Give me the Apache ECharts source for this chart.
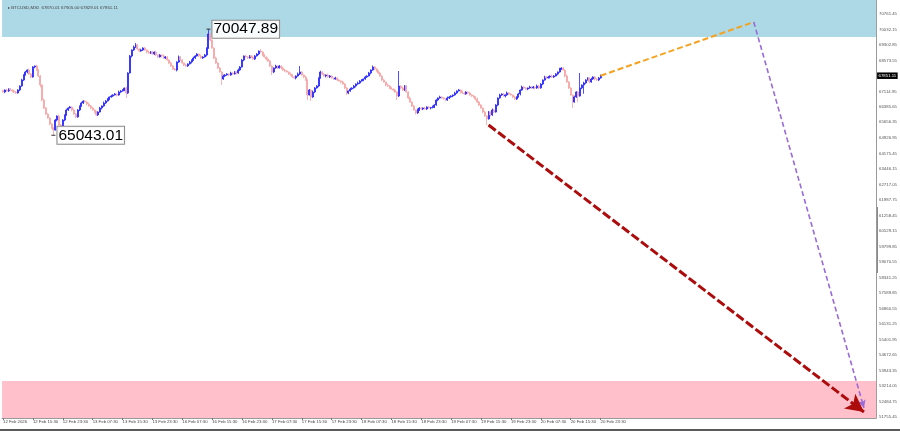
<!DOCTYPE html>
<html><head><meta charset="utf-8">
<script src="https://cdn.jsdelivr.net/npm/echarts@6.0.0/dist/echarts.min.js"></script>
<style>html,body{margin:0;padding:0;background:#fff}#c{width:900px;height:431px}</style>
</head><body><div id="c"></div>
<script>
const symbolTitle = '\u25B8 BTCUSD,M30  67870.01 67905.00 67829.01 67851.11';
const xTickLabels = ['12 Feb 2026','12 Feb 15:30','12 Feb 23:30','13 Feb 07:30','13 Feb 15:30','13 Feb 23:30','16 Feb 07:30','16 Feb 15:30','16 Feb 23:30','17 Feb 07:30','17 Feb 15:30','17 Feb 23:30','18 Feb 07:30','18 Feb 15:30','18 Feb 23:30','19 Feb 07:30','19 Feb 15:30','19 Feb 23:30','20 Feb 07:30','20 Feb 15:30','20 Feb 23:30'];
const barsPerLabel = 16;
const totalSlots = 468;
const yTickValues = [70761.45,70032.15,69302.85,68573.55,67114.95,66385.65,65656.35,64926.95,64175.45,63446.15,62717.05,61987.75,61258.45,60529.15,59799.85,59070.55,58341.25,57589.85,56860.55,56131.25,55401.95,54672.65,53943.35,53214.05,52484.75,51755.45];
const yRange = [51708, 71422];
const firstOpen = 67150;
const closes = [
67083,67177,67130,67224,67177,67130,67083,67035,67177,67366,
67649,67884,68026,68120,67932,67790,68262,68309,68120,67837,
67413,66705,66328,66045,65856,65573,65385,65290,65762,65951,
65526,65479,65762,65998,66234,66328,66375,66234,66045,65903,
66234,66422,66564,66658,66611,66517,66422,66328,66234,66139,
65998,66139,66328,66422,66564,66658,66752,66847,66894,66941,
66988,66941,67083,67130,67177,67271,67035,67979,68781,69064,
69205,69299,69111,69016,69064,69158,69064,68969,68922,68969,
68875,68969,68828,68733,68828,68781,68686,68733,68592,68450,
68309,68167,68120,68498,68733,68592,68450,68356,68309,68403,
68498,68592,68686,68781,68875,68781,68686,68733,68828,69158,
69818,69535,69158,68686,68450,68215,68026,67696,67837,67884,
67932,67884,67979,67932,68026,67979,68120,68262,68592,68781,
68733,68686,68781,68733,68639,68781,68875,69016,68969,68828,
68733,68639,68545,68309,68026,68215,68309,68215,68309,68215,
68120,68073,68026,67932,67884,67790,67743,67837,67932,68026,
67884,67790,67649,66941,67177,66847,67083,67271,67366,67743,
68026,67932,67837,67884,67790,67837,67743,67696,67743,67649,
67601,67554,67460,67271,67035,67130,67224,67271,67366,67460,
67507,67601,67649,67696,67790,67837,67979,68120,68262,68167,
68073,67979,67837,67649,67554,67413,67366,67271,67224,67177,
67083,66894,67366,67271,67177,67366,67083,66800,66611,66422,
66234,66092,66234,66328,66281,66328,66281,66375,66328,66350,
66375,66469,66705,66800,66847,66800,66752,66705,66800,66847,
66894,66941,67035,67130,67177,67083,67035,66988,67083,67035,
66941,66894,66847,66752,66611,66469,66328,66139,65951,65809,
66139,65998,66234,66139,66469,66800,66941,66988,66894,66941,
67035,66988,66941,66847,66752,66847,66988,67177,67318,67271,
67224,67271,67318,67271,67318,67271,67366,67271,67460,67649,
67790,67743,67790,67837,67790,67837,67932,68026,68167,68215,
68120,67837,67554,67271,66941,66611,66847,67083,66894,67271,
67413,67507,67649,67743,67554,67696,67790,67696,67649,67743,
67851.11];
const highs = [
67190,67202,67237,67259,67274,67207,67200,67128,67217,67391,
67709,67919,68076,68150,68190,67977,68302,68334,68369,68155,
67887,67443,66775,66373,66085,65881,65633,65420,65812,65981,
66021,65571,65802,66023,66294,66363,66425,66405,66304,66090,
66274,66447,66624,66693,66708,66641,66587,66467,66368,66259,
66199,66174,66378,66452,66634,66703,66792,66872,66954,66976,
67038,67018,67153,67175,67217,67296,67331,68014,68831,69094,
69275,69394,69339,69136,69124,69193,69208,69094,69039,69014,
69009,68994,69029,68863,68878,68858,68851,68778,68773,68617,
68510,68344,68217,68528,68803,68778,68632,68475,68416,68438,
68548,68622,68756,68826,68915,68900,68841,68768,68878,69188,
70047.89,69863,69575,69183,68746,68485,68265,68056,67907,67929,
67972,67957,68039,68014,68076,68056,68190,68307,68632,68806,
68841,68768,68831,68811,68803,68826,68915,69041,69111,69004,
68878,68763,68709,68590,68349,68240,68369,68344,68359,68339,
68285,68165,68113,68051,67992,67919,67840,67867,68002,68309,
68066,67909,67850,67684,67227,67207,67153,67316,67406,67768,
68086,68061,67982,67914,67954,67882,67877,67768,67803,67778,
67699,67631,67624,67505,67311,67155,67284,67306,67416,67490,
67577,67646,67689,67721,67850,67872,68029,68150,68332,68307,
68207,68098,68039,67872,67699,67584,67483,67411,67311,67249,
67237,67118,68073,67396,67341,67411,67406,67108,66860,66646,
66472,66264,66304,66373,66368,66353,66388,66410,66425,66380,
66445,66514,66745,66825,66907,66882,66850,66782,66870,66892,
66934,66966,67095,67165,67227,67207,67153,67080,67123,67108,
67095,66976,66944,66877,66822,66656,66509,66353,66199,65986,
66189,66169,66304,66279,66509,66825,67001,67023,67038,66971,
67105,67080,67028,66966,66907,66882,67038,67207,67388,67363,
67311,67296,67378,67353,67368,67348,67436,67411,67500,67674,
67850,67825,67840,67867,67907,67882,67972,68051,68227,68250,
68265,68150,67907,67599,67311,66966,66907,67118,67133,67979,
67438,67567,67684,67783,67768,67756,67825,67840,67726,67793,
67905];
const lows = [
67053,67028,67095,67085,67152,67065,67043,66985,67005,67122,
67331,67604,67859,67961,67892,67740,67760,68207,68085,67792,
67300,66640,66288,65995,65826,65518,65350,65043.01,65265,65697,
65486,65429,65449,65707,65963,66189,66303,66169,66005,65853,
65873,66179,66387,66519,66586,66452,66382,66278,66204,66084,
65963,65953,66114,66263,66382,66514,66628,66697,66812,66849,
66916,66876,66901,67033,67100,67122,66800,66990,67954,68716,
69024,69155,69081,68961,68981,69019,69039,68904,68882,68872,
68845,68820,68793,68688,68708,68716,68646,68636,68562,68395,
68274,68122,68095,68055,68458,68542,68420,68301,68274,68264,
68378,68433,68552,68636,68751,68726,68651,68641,68708,68763,
69118,69485,69128,68631,68415,68170,68001,67413,67656,67787,
67854,67829,67849,67887,67907,67914,67939,68070,68232,68537,
68698,68641,68661,68668,68599,68589,68751,68820,68934,68783,
68708,68574,68505,68259,67884,67971,68180,68170,68190,68150,
68080,68023,67996,67877,67849,67745,67718,67678,67797,67882,
67854,67735,67614,66705,66916,66658,66807,67033,67241,67311,
67708,67887,67812,67772,67750,67740,67713,67641,67661,67604,
67576,67489,67420,67221,66941,66980,67095,67179,67246,67301,
67420,67457,67571,67594,67661,67745,67812,67914,68080,68117,
68043,67924,67802,67604,67529,67348,67326,67221,67194,67122,
67048,66705,66844,67206,67137,67127,67053,66745,66576,66377,
66209,66027,66052,66184,66251,66226,66246,66236,66303,66263,
66310,66325,66439,66650,66765,66755,66727,66640,66665,66750,
66817,66839,66906,66990,67105,67018,66995,66938,66958,66980,
66906,66849,66822,66687,66571,66419,66298,66084,65916,65526,
65784,65933,65958,66089,66109,66414,66765,66896,66869,66829,
66901,66938,66911,66792,66717,66707,66822,66923,67137,67221,
67194,67169,67236,67226,67246,67206,67231,67221,67241,67405,
67614,67698,67718,67725,67750,67740,67807,67877,67991,68122,
68095,67772,67514,67221,66911,66328,66576,66802,66600,66864,
67216,67000,67462,67619,67499,67519,67651,67631,67609,67599,
67718];
const highMark = [110, 70047.89];
const lowMark = [27, 65043.01];
const lastPrice = 67851.11;
const upperZone = [69680, 71422];
const lowerZone = [51708, 53454];
const orangePath = [[320, 67851.11], [402, 70384]];
const purplePath = [[402, 70384], [461, 52180]];
const redPath = [[260, 65526], [461, 51990]];

const FONT = 'Liberation Sans';
const categories = Array.from({length: totalSlots}, (_, i) => String(i));
const candleData = closes.map((c, i) => [i === 0 ? firstOpen : closes[i - 1], c, lows[i], highs[i]]);
const showTick = i => i % barsPerLabel === 0 && i / barsPerLabel < xTickLabels.length;

const chart = echarts.init(document.getElementById('c'), null, {renderer: 'canvas'});
chart.setOption({
  animation: false,
  backgroundColor: '#ffffff',
  title: {text: symbolTitle, left: 3, top: 1, textStyle: {fontSize: 4.4, fontWeight: 'normal', color: '#444', fontFamily: FONT}},
  grid: {left: 0, right: 23, top: 0, bottom: 13},
  xAxis: {
    type: 'category', data: categories, boundaryGap: true,
    axisLine: {show: true, lineStyle: {color: '#9a9a9a', width: 1}},
    axisTick: {show: true, interval: showTick, alignWithLabel: true, length: 2, lineStyle: {color: '#777'}},
    axisLabel: {interval: showTick, align: 'left', margin: 2, fontSize: 4.3, color: '#444', fontFamily: FONT,
      formatter: v => { const i = +v; return showTick(i) ? xTickLabels[i / barsPerLabel] : ''; }},
    splitLine: {show: false}
  },
  yAxis: {
    type: 'value', position: 'right', min: yRange[0], max: yRange[1], scale: true,
    axisLine: {show: true, lineStyle: {color: '#9a9a9a', width: 1}},
    axisTick: {show: false},
    splitLine: {show: false},
    axisLabel: {customValues: yTickValues, margin: 3, fontSize: 4.3, color: '#555', fontFamily: FONT,
      formatter: v => v.toFixed(2)}
  },
  series: [
    {
      type: 'candlestick', data: candleData, barWidth: 1.5,
      itemStyle: {color: '#2323ff', color0: '#f6a3a3', borderColor: '#2323ff', borderColor0: '#f6a3a3', borderWidth: 0.8},
      markArea: {
        silent: true,
        data: [
          [{yAxis: upperZone[0], itemStyle: {color: '#add8e6'}}, {yAxis: upperZone[1]}],
          [{yAxis: lowerZone[0], itemStyle: {color: '#ffc0cb'}}, {yAxis: lowerZone[1]}]
        ]
      },
      markLine: {
        silent: true, symbol: 'none',
        data: [{yAxis: lastPrice}],
        lineStyle: {color: 'rgba(0,0,0,0)', width: 0},
        label: {show: true, position: 'end', distance: 1, formatter: lastPrice.toFixed(2),
          backgroundColor: '#000', color: '#fff', fontSize: 4.3, fontFamily: FONT, padding: [1.5, 1.5, 1, 1.5]}
      },
      markPoint: {
        silent: true,
        symbol: 'rect', symbolSize: [4, 1],
        itemStyle: {color: '#333'},
        label: {show: true, position: 'right', distance: 2, color: '#000', fontSize: 15.5, fontFamily: FONT,
          backgroundColor: 'rgba(255,255,255,0.92)', borderColor: '#8a8a8a', borderWidth: 1, padding: [1, 1, 0, 1],
          formatter: p => p.value.toFixed(2)},
        data: [
          {coord: highMark, value: highMark[1]},
          {coord: lowMark, value: lowMark[1]}
        ]
      }
    },
    {
      type: 'line', data: [], z: 10,
      markLine: {
        silent: true, animation: false,
        label: {show: false},
        data: [
          [{coord: orangePath[0], symbol: 'none', lineStyle: {color: '#f5a21f', width: 2, type: [6, 3]}},
           {coord: orangePath[1], symbol: 'none'}],
          [{coord: purplePath[0], symbol: 'none', lineStyle: {color: '#9a6ad8', width: 1.6, type: [5, 3]}},
           {coord: purplePath[1], symbol: 'arrow', symbolSize: [6, 8]}],
          [{coord: redPath[0], symbol: 'none', lineStyle: {color: '#ad0c0c', width: 3, type: [9, 3]}},
           {coord: redPath[1], symbol: 'arrow', symbolSize: [14, 18]}]
        ]
      }
    }
  ],
  graphic: [
    {type: 'rect', left: 0, top: 429, shape: {width: 900, height: 2}, style: {fill: '#5a5a5a'}, silent: true},
    {type: 'line', shape: {x1: 877, y1: 207, x2: 877, y2: 273}, style: {stroke: '#8a8a8a', lineWidth: 2}, silent: true}
  ]
});
</script>
</body></html>
